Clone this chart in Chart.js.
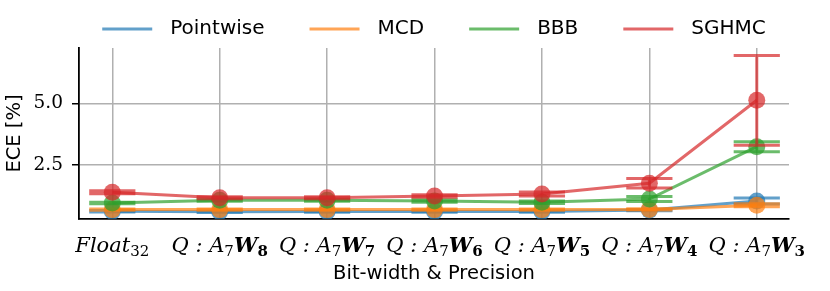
<!DOCTYPE html>
<html>
<head>
<meta charset="utf-8">
<script src="https://cdn.jsdelivr.net/npm/chart.js@4.4.1/dist/chart.umd.min.js"></script>
<style>
  html, body { margin: 0; padding: 0; background: #ffffff; }
  #wrap { width: 830px; height: 291px; }
</style>
</head>
<body>
<div id="wrap"><canvas id="c" width="830" height="291"></canvas></div>
<script>
// ---- data ----
const categories = ['Float_{32}', 'Q : A_{7}**W**_{8}', 'Q : A_{7}**W**_{7}', 'Q : A_{7}**W**_{6}',
                    'Q : A_{7}**W**_{5}', 'Q : A_{7}**W**_{4}', 'Q : A_{7}**W**_{3}'];
const seriesNames = ['Pointwise', 'MCD', 'BBB', 'SGHMC'];
const pointwise    = [0.63, 0.61, 0.62, 0.62, 0.62, 0.68, 1.05];
const pointwiseErr = [0.03, 0.03, 0.03, 0.03, 0.03, 0.03, 0.12];
const mcd          = [0.70, 0.70, 0.70, 0.70, 0.70, 0.71, 0.88];
const mcdErr       = [0.03, 0.03, 0.03, 0.03, 0.03, 0.03, 0.06];
const bbb          = [0.97, 1.08, 1.08, 1.05, 1.00, 1.13, 3.25];
const bbbErr       = [0.03, 0.04, 0.04, 0.05, 0.05, 0.10, 0.20];
const sghmc        = [1.40, 1.18, 1.18, 1.25, 1.33, 1.77, 5.13];
const sghmcErr     = [0.06, 0.04, 0.04, 0.05, 0.08, 0.19, 1.82];
const yTickValues  = [2.5, 5.0];
const xLabel = 'Bit-width & Precision';
const yLabel = 'ECE [%]';

// ---- styling ----
const colors = ['rgba(31,119,180,0.7)', 'rgba(255,127,14,0.7)', 'rgba(44,160,44,0.7)', 'rgba(214,39,40,0.7)'];
const values = [pointwise, mcd, bbb, sghmc];
const errors = [pointwiseErr, mcdErr, bbbErr, sghmcErr];

const datasets = seriesNames.map((name, k) => ({
  label: name,
  data: values[k].map((v, i) => ({ x: i, y: v })),
  errs: errors[k],
  borderColor: colors[k],
  backgroundColor: colors[k],
  pointBackgroundColor: colors[k],
  pointBorderWidth: 0,
  pointRadius: 8.5,
  pointHoverRadius: 8.5,
  borderWidth: 3,
  tension: 0,
  fill: false,
  order: seriesNames.length - k
}));

const errorBars = {
  id: 'errorBars',
  beforeDatasetDraw(chart, args) {
    const ds = chart.data.datasets[args.index];
    const xs = chart.scales.x, ys = chart.scales.y;
    const ctx = chart.ctx;
    ctx.save();
    ctx.strokeStyle = ds.borderColor;
    ctx.lineWidth = 3;
    ds.data.forEach((p, i) => {
      const e = ds.errs[i];
      const x = xs.getPixelForValue(p.x);
      const xl = xs.getPixelForValue(p.x - 0.215);
      const xr = xs.getPixelForValue(p.x + 0.215);
      const yt = ys.getPixelForValue(p.y + e);
      const yb = ys.getPixelForValue(p.y - e);
      ctx.beginPath();
      ctx.moveTo(x, yt); ctx.lineTo(x, yb);
      ctx.moveTo(xl, yt); ctx.lineTo(xr, yt);
      ctx.moveTo(xl, yb); ctx.lineTo(xr, yb);
      ctx.stroke();
    });
    ctx.restore();
  }
};

function parseLabel(s) {
  // tokens: **X** bold, _{..} subscript (bold if previous was bold)
  const parts = s.split(/(\*\*[^*]+\*\*|_\{[^}]+\})/).filter(t => t.length);
  const segs = [];
  let prevBold = false;
  parts.forEach(t => {
    if (t.startsWith('**')) { segs.push({ text: t.slice(2, -2), bold: true, sub: false }); prevBold = true; }
    else if (t.startsWith('_{')) { segs.push({ text: t.slice(2, -1), bold: prevBold, sub: true }); prevBold = false; }
    else { segs.push({ text: t, bold: false, sub: false }); prevBold = false; }
  });
  return segs;
}
function segFont(seg) {
  if (seg.sub) return (seg.bold ? 'bold ' : '') + '15px "DejaVu Serif"';
  return (seg.bold ? 'bold italic ' : 'italic ') + '21px "DejaVu Serif"';
}

const xTickText = {
  id: 'xTickText',
  afterDraw(chart) {
    const ctx = chart.ctx, xs = chart.scales.x;
    const baseY = 252;
    ctx.save();
    ctx.fillStyle = '#000';
    ctx.textBaseline = 'alphabetic';
    ctx.textAlign = 'left';
    categories.forEach((lab, i) => {
      const segs = parseLabel(lab);
      let w = 0;
      segs.forEach(sg => { ctx.font = segFont(sg); sg.w = ctx.measureText(sg.text).width; w += sg.w; });
      let x = xs.getPixelForValue(i) - w / 2;
      segs.forEach(sg => {
        ctx.font = segFont(sg);
        ctx.fillText(sg.text, x, baseY + (sg.sub ? 4 : 0));
        x += sg.w;
      });
    });
    ctx.restore();
  }
};

const customLegend = {
  id: 'customLegend',
  afterDraw(chart) {
    const ctx = chart.ctx, area = chart.chartArea;
    const lineLen = 50, gap = 18, spacing = 45, y = 29;
    ctx.save();
    ctx.font = '20px "DejaVu Sans"';
    const items = chart.data.datasets.map(d => ({ label: d.label, color: d.borderColor, w: ctx.measureText(d.label).width }));
    let total = 0;
    items.forEach(it => total += lineLen + gap + it.w);
    total += spacing * (items.length - 1);
    let x = (area.left + area.right) / 2 - total / 2;
    ctx.textBaseline = 'middle';
    ctx.textAlign = 'left';
    items.forEach(it => {
      ctx.strokeStyle = it.color;
      ctx.lineWidth = 3;
      ctx.beginPath(); ctx.moveTo(x, y); ctx.lineTo(x + lineLen, y); ctx.stroke();
      ctx.fillStyle = '#000';
      ctx.fillText(it.label, x + lineLen + gap, y);
      x += lineLen + gap + it.w + spacing;
    });
    ctx.restore();
  }
};

new Chart(document.getElementById('c'), {
  type: 'line',
  data: { datasets },
  options: {
    responsive: false,
    animation: false,
    devicePixelRatio: 1,
    layout: { padding: { top: 48, right: 41, bottom: 0, left: 0 } },
    plugins: { legend: { display: false }, tooltip: { enabled: false } },
    scales: {
      x: {
        type: 'linear',
        min: -0.31,
        max: 6.3,
        afterBuildTicks: s => { s.ticks = categories.map((_, i) => ({ value: i })); },
        afterFit: s => { s.height = 72; },
        ticks: { display: false },
        grid: { color: '#b0b0b0', lineWidth: 1.5, drawTicks: false },
        border: { display: true, color: '#000', width: 1.8 },
        title: { display: true, text: xLabel, color: '#000', font: { family: '"DejaVu Sans", sans-serif', size: 19.5 }, padding: { top: 0, bottom: 5 } }
      },
      y: {
        min: 0.32,
        max: 7.25,
        afterBuildTicks: s => { s.ticks = yTickValues.map(v => ({ value: v })); },
        afterFit: s => { s.width = 79; },
        ticks: { color: '#000', padding: 9, font: { family: '"DejaVu Serif", serif', size: 18.5 }, callback: v => Number(v).toFixed(1) },
        grid: { color: '#b0b0b0', lineWidth: 1.5, drawTicks: true, tickLength: 7, tickColor: '#000', tickWidth: 1.5 },
        border: { display: true, color: '#000', width: 1.8 },
        title: { display: true, text: yLabel, color: '#000', font: { family: '"DejaVu Sans", sans-serif', size: 19.5 }, padding: { top: 3, bottom: 0 } }
      }
    }
  },
  plugins: [errorBars, xTickText, customLegend]
});
</script>
</body>
</html>
